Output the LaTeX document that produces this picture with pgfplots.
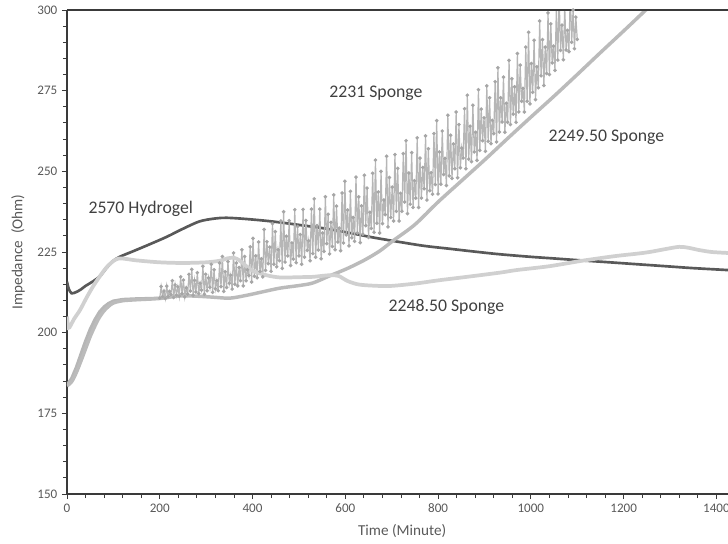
\documentclass[border=0pt]{standalone}
\usepackage{fontspec}
\setmainfont{Carlito}
\usepackage{pgfplots}
\pgfplotsset{compat=1.18}

\definecolor{axisc}{HTML}{3A3A3A}
\definecolor{tickc}{HTML}{595959}
\definecolor{notec}{HTML}{404040}
\definecolor{hydro}{HTML}{595959}
\definecolor{spA}{HTML}{B6B6B6}   % 2231 sponge
\definecolor{spAm}{HTML}{A6A6A6}
\definecolor{spB}{HTML}{D0D0D0}   % 2248.50 sponge
\definecolor{spC}{HTML}{BBBBBB}   % 2249.50 sponge

\begin{document}
\begin{tikzpicture}
\begin{axis}[
  scale only axis, width=495.75pt, height=363pt,
  xmin=0, xmax=1425, ymin=150, ymax=300,
  axis lines*=left,
  axis line style={axisc, line width=1pt},
  tick align=outside,
  xtick={0,200,...,1400}, ytick={150,175,...,300},
  minor x tick num=4, minor y tick num=4,
  major tick length=3.75pt, minor tick length=3pt,
  every tick/.style={axisc, line width=0.7pt},
  ticklabel style={font=\fontsize{9.8}{11}\selectfont, text=tickc},
  /pgf/number format/assume math mode=true,
  /pgf/number format/set thousands separator={},
  xlabel={Time (Minute)}, ylabel={Impedance~~(Ohm)},
  label style={font=\fontsize{11.4}{13}\selectfont, text=tickc},
  xlabel style={at={(axis description cs:0.507,0)}, anchor=center, yshift=-27.75pt},
  ylabel style={at={(axis description cs:-0.0741,0.5)}, anchor=center, rotate=0},
  clip=true,
]
% 2570 Hydrogel
\addplot[hydro, line width=2pt, smooth] coordinates {
(0,215.8)(4,213.5)(10,212.2)(20,212.6)(30,213.4)(40,214.5)(55,215.8)(71,217.5)
(85,220)(100,222.3)(115,223.6)(142,225.2)(180,227.5)(215,229.7)(250,232.2)
(286,234.5)(320,235.4)(344,235.6)(380,235.3)(420,234.8)(452,234.3)(500,233.4)
(560,232.2)(610,230.9)(660,229.5)(717,228.1)(770,226.9)(825,226)(880,225.1)
(933,224.3)(1000,223.5)(1050,223)(1098,222.5)(1150,222)(1200,221.5)(1250,221)
(1300,220.5)(1350,220)(1425,219.4)};

% 2231 Sponge, early smooth rise
\addplot[spA, line width=2.4pt] coordinates {
(0,183.8)(10,185.8)(20,189.2)(30,193.3)(40,197.4)(50,201)(60,204)(70,206.4)
(80,208)(90,209.1)(100,209.8)(120,210.3)(150,210.5)(180,210.6)(200,210.7)};

% 2231 Sponge, oscillating readings
\addplot[spA, line width=0.9pt, mark=*, mark size=0.85pt,
  mark options={fill=spAm, draw=spAm}] coordinates {
(200,210.7)(203,214.3)(206,211.2)(209,212.9)(212,210.6)(215,214.4)(218,211.2)(221,212.8)(224,211.8)(227,216.1)
(230,210.9)(233,214.8)(236,211.6)(239,214.2)(242,211.3)(245,217.3)(248,212.1)(251,216.3)(254,211.1)(257,213.9)
(260,212.0)(263,218.1)(266,212.9)(269,219.6)(272,211.6)(275,216.2)(278,212.6)(281,218.6)(284,212.1)(287,215.3)
(290,213.2)(293,220.6)(296,211.9)(299,218.1)(302,213.0)(305,217.0)(308,214.1)(311,221.2)(314,212.5)(317,219.5)
(320,213.6)(323,216.1)(326,213.0)(329,221.6)(332,214.3)(335,223.6)(338,212.8)(341,218.9)(344,214.0)(347,222.0)
(350,215.3)(353,217.8)(356,213.5)(359,224.7)(362,215.0)(365,221.6)(368,214.5)(371,220.2)(374,216.1)(377,225.7)
(380,214.5)(383,223.6)(386,216.1)(389,219.5)(392,217.7)(395,226.6)(398,215.7)(401,229.2)(404,217.5)(407,223.8)
(410,217.0)(413,228.1)(416,219.0)(419,222.9)(422,217.3)(425,232.0)(428,219.3)(431,228.2)(434,221.4)(437,226.5)
(440,219.0)(443,233.8)(446,221.2)(449,231.3)(452,220.4)(455,225.7)(458,222.3)(461,234.6)(464,219.9)(467,237.5)
(470,221.9)(473,229.9)(476,223.8)(479,234.7)(482,220.8)(485,227.8)(488,222.8)(491,238.1)(494,221.7)(497,232.9)
(500,223.8)(503,230.4)(506,221.2)(509,238.2)(512,223.4)(515,234.8)(518,225.5)(521,228.5)(524,222.3)(527,238.3)
(530,224.5)(533,241.5)(536,223.4)(539,233.2)(542,225.6)(545,238.3)(548,222.9)(551,230.9)(554,225.2)(557,242.1)
(560,227.6)(563,236.7)(566,224.4)(569,234.2)(572,226.7)(575,242.7)(578,225.7)(581,239.2)(584,228.1)(587,232.4)
(590,225.4)(593,243.3)(596,227.8)(599,246.9)(602,230.3)(605,238.0)(608,226.9)(611,243.8)(614,229.4)(617,235.7)
(620,228.3)(623,248.2)(626,230.9)(629,242.1)(632,227.9)(635,239.3)(638,230.5)(641,248.8)(644,233.2)(647,244.8)
(650,229.5)(653,237.3)(656,232.3)(659,249.4)(662,231.1)(665,253.5)(668,233.9)(671,243.6)(674,230.9)(677,250.0)
(680,233.8)(683,241.1)(686,236.6)(689,254.7)(692,232.8)(695,248.1)(698,235.7)(701,245.1)(704,234.6)(707,255.2)
(710,237.6)(713,250.9)(716,234.6)(719,243.2)(722,237.6)(725,255.5)(728,240.5)(731,259.5)(734,236.9)(737,249.5)
(740,239.8)(743,255.8)(746,238.8)(749,247.1)(752,241.7)(755,260.4)(758,238.8)(761,254.1)(764,241.7)(767,251.2)
(770,244.6)(773,261.0)(776,241.1)(779,257.0)(782,244.0)(785,249.6)(788,242.9)(791,261.7)(794,245.9)(797,265.7)
(800,243.0)(803,256.0)(806,246.0)(809,262.5)(812,249.0)(815,254.0)(818,245.6)(821,267.4)(824,248.6)(827,261.2)
(830,247.8)(833,258.5)(836,250.8)(839,268.4)(842,248.0)(845,264.5)(848,251.1)(851,257.2)(854,254.1)(857,269.4)
(860,250.8)(863,273.6)(866,253.8)(869,264.0)(872,253.0)(875,270.5)(878,256.0)(881,262.1)(884,253.4)(887,275.3)
(890,256.5)(893,269.3)(896,259.5)(899,266.6)(902,256.2)(905,276.5)(908,259.3)(911,272.8)(914,258.6)(917,265.8)
(920,261.7)(923,277.8)(926,259.1)(929,282.1)(932,262.2)(935,272.8)(938,265.3)(941,279.2)(944,262.1)(947,271.1)
(950,265.2)(953,284.4)(956,264.5)(959,278.7)(962,267.7)(965,276.2)(968,265.2)(971,286.5)(974,268.4)(977,282.9)
(980,271.7)(983,275.7)(986,268.4)(989,288.5)(992,271.7)(995,293.1)(998,270.9)(1001,283.4)(1004,274.5)(1007,290.6)
(1010,272.2)(1013,282.4)(1016,275.9)(1019,296.6)(1022,279.6)(1025,290.8)(1028,276.6)(1031,288.5)(1034,280.3)(1037,299.1)
(1040,280.0)(1043,295.7)(1046,283.6)(1049,288.8)(1052,281.3)(1055,300.5)(1058,284.5)(1061,304.3)(1064,287.5)(1067,295.3)
(1070,284.6)(1073,301.1)(1076,287.6)(1079,293.7)(1082,287.1)(1085,305.2)(1088,290.0)(1091,300.0)(1094,288.0)(1097,297.8)
(1100,290.9)};

% 2249.50 Sponge
\addplot[spC, line width=2.6pt, smooth] coordinates {
(0,183.5)(10,184.8)(20,187.6)(30,191.2)(40,195)(50,198.8)(60,202)(70,204.8)
(80,206.8)(90,208.2)(100,209.2)(120,209.9)(150,210.2)(200,210.6)(243,211.4)
(280,211.3)(315,211)(351,210.7)(388,211.6)(420,212.6)(459,213.8)(500,214.6)
(530,215.4)(566,217.6)(603,219.8)(640,222.4)(674,225.3)(703,228.5)(750,233.5)
(800,240.5)(850,247)(900,253.5)(950,260.2)(1000,266.8)(1050,273.3)(1100,280)
(1150,286.8)(1200,293.5)(1250,300.3)(1270,303)};

% 2248.50 Sponge
\addplot[spB, line width=2.8pt, smooth] coordinates {
(0,205)(3,201.5)(8,202.3)(15,204.2)(28,207)(42,210.8)(56,214.3)(70,217.3)
(85,220.2)(100,222.2)(112,223)(130,222.8)(150,222.4)(200,221.8)(250,221.6)
(300,221.8)(330,222.3)(345,223)(360,223.2)(372,222.4)(385,220.8)(400,219.2)
(430,217.8)(460,217.1)(500,217.2)(530,217.3)(565,217.8)(585,217.6)(605,216)
(630,214.9)(670,214.5)(700,214.5)(750,215.2)(800,216.2)(862,217.3)(933,218.6)
(969,219.4)(1040,220.6)(1111,222.3)(1180,223.7)(1230,224.5)(1256,225)(1290,225.9)
(1320,226.6)(1340,226.3)(1363,225.6)(1390,225)(1425,224.7)};

% top frame line
\draw[axisc, line width=1pt] (rel axis cs:0,1) -- (rel axis cs:1,1);

% series names
\begin{scope}[every node/.style={font=\fontsize{13.3}{15}\selectfont, text=notec}]
\node at (axis cs:159,238.3) {2570 Hydrogel};
\node at (axis cs:666,274.3) {2231 Sponge};
\node at (axis cs:1163,260.6) {2249.50 Sponge};
\node at (axis cs:818,208) {2248.50 Sponge};
\end{scope}

\coordinate (bl) at (rel axis cs:0,0);
\coordinate (tr) at (rel axis cs:1,1);
\end{axis}
\pgfresetboundingbox
\path[use as bounding box] ([xshift=-50.25pt,yshift=-36.75pt]bl) rectangle ([yshift=7.5pt]tr);
\end{tikzpicture}
\end{document}
